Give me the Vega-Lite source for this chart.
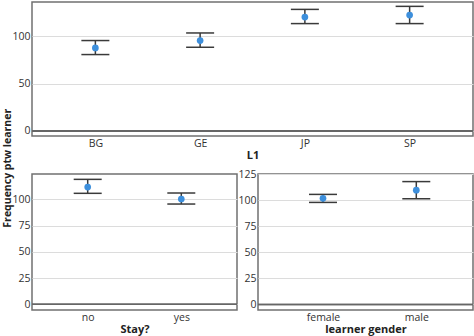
{
  "$schema": "https://vega.github.io/schema/vega-lite/v6.json",
  "padding": {"left": 2, "top": 1, "right": 0, "bottom": 0},
  "background": "white",
  "bounds": "flush",
  "spacing": 38,
  "title": {"text": "Frequency ptw learner", "orient": "left", "anchor": "middle", "fontSize": 10.5, "fontWeight": "bold", "font": "Open Sans", "color": "#222", "offset": -2},
  "config": {
    "view": {"stroke": "#707070", "strokeWidth": 1.5},
    "axis": {"labelFont": "Open Sans", "titleFont": "Open Sans", "labelFontSize": 10.5, "titleFontSize": 11, "titleFontWeight": "bold", "labelColor": "#333", "titleColor": "#222", "ticks": false, "domain": false, "gridColor": "#dcdcdc", "gridWidth": 1},
    "axisX": {"grid": false, "labelPadding": 2, "titlePadding": 1, "labelAngle": 0},
    "axisY": {"labelPadding": 2}
  },
  "datasets": {
    "l1": [
      {"group": "BG", "mean": 87.7, "lo": 80.7, "hi": 95.5},
      {"group": "GE", "mean": 95.5, "lo": 88.4, "hi": 103.5},
      {"group": "JP", "mean": 120.3, "lo": 113.4, "hi": 128.4},
      {"group": "SP", "mean": 122.4, "lo": 113.4, "hi": 131.6}
    ],
    "stay": [
      {"group": "no", "mean": 111.7, "lo": 105.7, "hi": 119.0},
      {"group": "yes", "mean": 100.3, "lo": 95.5, "hi": 106.0}
    ],
    "gender": [
      {"group": "female", "mean": 101.9, "lo": 98.0, "hi": 105.7},
      {"group": "male", "mean": 109.8, "lo": 101.5, "hi": 118.0}
    ]
  },
  "vconcat": [
    {
      "width": 441, "height": 134,
      "data": {"name": "l1"},
      "layer": [
        {"mark": {"type": "rule", "color": "#666", "strokeWidth": 1.5},
         "encoding": {"y": {"datum": 0, "type": "quantitative", "scale": {"domain": [-5.3, 136.2], "nice": false, "zero": false}, "axis": {"title": null, "values": [0, 50, 100], "grid": true}}}},
        {"mark": {"type": "rule", "color": "#3a3a3a", "strokeWidth": 1.5},
         "encoding": {
           "x": {"field": "group", "type": "nominal", "sort": null, "scale": {"type": "point", "padding": 0.605}, "axis": {"title": "L1"}},
           "y": {"field": "lo", "type": "quantitative", "axis": {"title": null, "values": [0, 50, 100], "grid": true}},
           "y2": {"field": "hi"}}},
        {"mark": {"type": "tick", "color": "#3a3a3a", "size": 28, "thickness": 1.5, "opacity": 1},
         "encoding": {"x": {"field": "group", "type": "nominal", "sort": null}, "y": {"field": "lo", "type": "quantitative", "axis": {"title": null, "values": [0, 50, 100], "grid": true}}}},
        {"mark": {"type": "tick", "color": "#3a3a3a", "size": 28, "thickness": 1.5, "opacity": 1},
         "encoding": {"x": {"field": "group", "type": "nominal", "sort": null}, "y": {"field": "hi", "type": "quantitative", "axis": {"title": null, "values": [0, 50, 100], "grid": true}}}},
        {"mark": {"type": "point", "filled": true, "size": 45, "color": "#3d8fdc", "opacity": 1},
         "encoding": {"x": {"field": "group", "type": "nominal", "sort": null}, "y": {"field": "mean", "type": "quantitative", "axis": {"title": null, "values": [0, 50, 100], "grid": true}}}}
      ]
    },
    {
      "bounds": "flush",
      "spacing": 21,
      "hconcat": [
        {
          "width": 205, "height": 136,
          "data": {"name": "stay"},
          "layer": [
            {"mark": {"type": "rule", "color": "#666", "strokeWidth": 1.5},
             "encoding": {"y": {"datum": 0, "type": "quantitative", "scale": {"domain": [-5.4, 124.1], "nice": false, "zero": false}, "axis": {"title": null, "values": [0, 25, 50, 75, 100], "grid": true}}}},
            {"mark": {"type": "rule", "color": "#3a3a3a", "strokeWidth": 1.5},
             "encoding": {
               "x": {"field": "group", "type": "nominal", "sort": null, "scale": {"type": "point", "padding": 0.595}, "axis": {"title": "Stay?"}},
               "y": {"field": "lo", "type": "quantitative", "axis": {"title": null, "values": [0, 25, 50, 75, 100], "grid": true}},
               "y2": {"field": "hi"}}},
            {"mark": {"type": "tick", "color": "#3a3a3a", "size": 28, "thickness": 1.5, "opacity": 1},
             "encoding": {"x": {"field": "group", "type": "nominal", "sort": null}, "y": {"field": "lo", "type": "quantitative", "axis": {"title": null, "values": [0, 25, 50, 75, 100], "grid": true}}}},
            {"mark": {"type": "tick", "color": "#3a3a3a", "size": 28, "thickness": 1.5, "opacity": 1},
             "encoding": {"x": {"field": "group", "type": "nominal", "sort": null}, "y": {"field": "hi", "type": "quantitative", "axis": {"title": null, "values": [0, 25, 50, 75, 100], "grid": true}}}},
            {"mark": {"type": "point", "filled": true, "size": 45, "color": "#3d8fdc", "opacity": 1},
             "encoding": {"x": {"field": "group", "type": "nominal", "sort": null}, "y": {"field": "mean", "type": "quantitative", "axis": {"title": null, "values": [0, 25, 50, 75, 100], "grid": true}}}}
          ]
        },
        {
          "width": 215, "height": 136,
          "data": {"name": "gender"},
          "layer": [
            {"mark": {"type": "rule", "color": "#666", "strokeWidth": 1.5},
             "encoding": {"y": {"datum": 0, "type": "quantitative", "scale": {"domain": [-5.4, 125.3], "nice": false, "zero": false}, "axis": {"title": null, "values": [0, 25, 50, 75, 100, 125], "grid": true}}}},
            {"mark": {"type": "rule", "color": "#3a3a3a", "strokeWidth": 1.5},
             "encoding": {
               "x": {"field": "group", "type": "nominal", "sort": null, "scale": {"type": "point", "padding": 0.652, "align": 0.534}, "axis": {"title": "learner gender"}},
               "y": {"field": "lo", "type": "quantitative", "axis": {"title": null, "values": [0, 25, 50, 75, 100, 125], "grid": true}},
               "y2": {"field": "hi"}}},
            {"mark": {"type": "tick", "color": "#3a3a3a", "size": 28, "thickness": 1.5, "opacity": 1},
             "encoding": {"x": {"field": "group", "type": "nominal", "sort": null}, "y": {"field": "lo", "type": "quantitative", "axis": {"title": null, "values": [0, 25, 50, 75, 100, 125], "grid": true}}}},
            {"mark": {"type": "tick", "color": "#3a3a3a", "size": 28, "thickness": 1.5, "opacity": 1},
             "encoding": {"x": {"field": "group", "type": "nominal", "sort": null}, "y": {"field": "hi", "type": "quantitative", "axis": {"title": null, "values": [0, 25, 50, 75, 100, 125], "grid": true}}}},
            {"mark": {"type": "point", "filled": true, "size": 45, "color": "#3d8fdc", "opacity": 1},
             "encoding": {"x": {"field": "group", "type": "nominal", "sort": null}, "y": {"field": "mean", "type": "quantitative", "axis": {"title": null, "values": [0, 25, 50, 75, 100, 125], "grid": true}}}}
          ]
        }
      ]
    }
  ]
}
